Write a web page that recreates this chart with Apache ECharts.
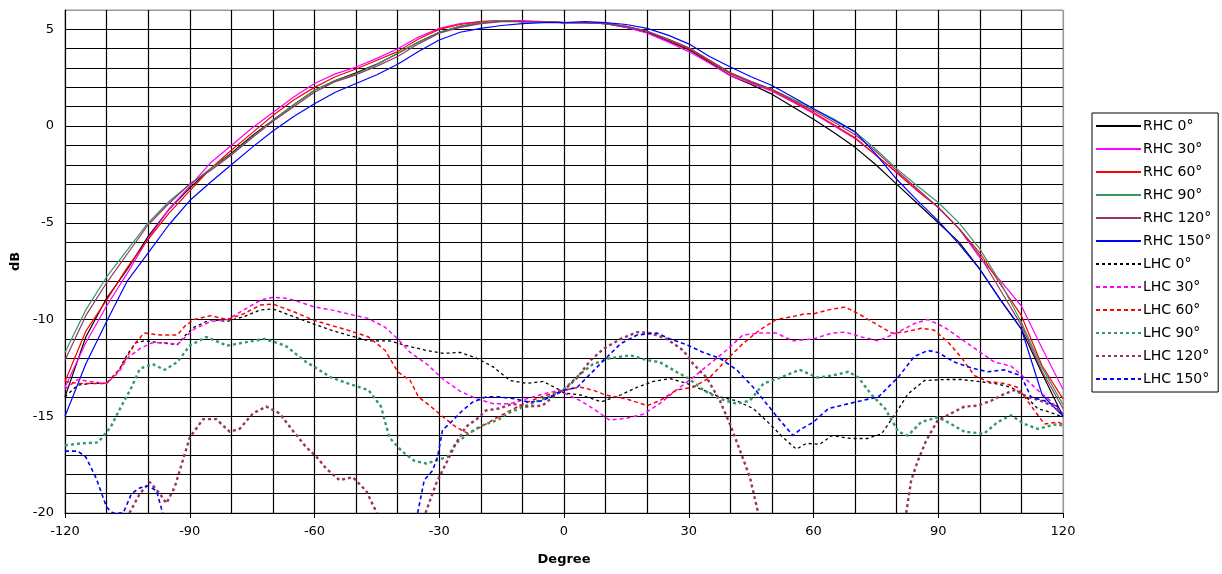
<!DOCTYPE html>
<html>
<head>
<meta charset="utf-8">
<script src="https://cdn.jsdelivr.net/npm/echarts@6/dist/echarts.min.js"></script>
<style>
html,body{margin:0;padding:0;background:#fff;}
#chart{width:1222px;height:574px;}
</style>
</head>
<body>
<div id="chart"></div>
<script>
// ---------- DATA ----------
const SERIES_NAMES = ['RHC 0°','RHC 30°','RHC 60°','RHC 90°','RHC 120°','RHC 150°',
                      'LHC 0°','LHC 30°','LHC 60°','LHC 90°','LHC 120°','LHC 150°'];
const X_TICK_LABELS = [-120,-90,-60,-30,0,30,60,90,120];
const Y_TICK_LABELS = [-20,-15,-10,-5,0,5];

const RHC_ANGLES = [-120,-115,-110,-105,-100,-95,-90,-85,-80,-75,-70,-65,-60,-55,-50,-45,-40,-35,-30,-25,-20,-15,-10,-5,
                    0,5,10,15,20,25,30,35,40,45,50,55,60,65,70,75,80,85,90,95,100,105,110,115,120];
const RHC_0   = [-14.0,-10.9,-8.9,-7.4,-5.7,-4.3,-3.2,-2.2,-1.4,-0.5,0.3,1.1,1.85,2.35,2.75,3.2,3.75,4.35,4.85,5.15,5.35,5.45,5.4,5.4,
                 5.35,5.35,5.3,5.1,4.85,4.4,3.95,3.3,2.6,2.15,1.65,1.0,0.35,-0.35,-1.1,-2.0,-3.0,-4.0,-5.0,-6.0,-7.4,-9.0,-10.5,-12.8,-15.0];
const RHC_30  = [-13.5,-11.2,-9.3,-7.6,-5.8,-4.3,-3.1,-1.9,-1.0,-0.1,0.7,1.5,2.2,2.7,3.05,3.5,4.0,4.6,5.05,5.3,5.4,5.45,5.45,5.4,
                 5.35,5.35,5.3,5.1,4.8,4.35,3.85,3.25,2.6,2.2,1.8,1.25,0.65,0.0,-0.65,-1.5,-2.4,-3.35,-4.2,-5.3,-6.8,-8.0,-9.3,-11.5,-13.6];
const RHC_60  = [-13.2,-10.6,-9.0,-7.3,-5.85,-4.5,-3.35,-2.2,-1.25,-0.35,0.55,1.35,2.0,2.55,2.95,3.4,3.85,4.5,5.0,5.25,5.4,5.45,5.4,5.4,
                 5.35,5.35,5.3,5.15,4.9,4.45,4.0,3.35,2.7,2.25,1.85,1.3,0.7,0.05,-0.6,-1.5,-2.4,-3.35,-4.2,-5.3,-6.55,-8.2,-9.8,-12.4,-14.1];
const RHC_90  = [-11.7,-9.5,-7.8,-6.4,-5.0,-3.9,-3.0,-2.2,-1.45,-0.55,0.3,1.1,1.85,2.35,2.7,3.2,3.75,4.35,4.85,5.15,5.35,5.45,5.4,5.4,
                 5.35,5.35,5.3,5.15,4.9,4.5,4.05,3.4,2.75,2.3,1.9,1.4,0.9,0.35,-0.3,-1.2,-2.2,-3.1,-3.95,-5.0,-6.35,-8.1,-10.15,-12.5,-14.4];
const RHC_120 = [-12.1,-9.8,-8.1,-6.6,-5.1,-4.0,-3.0,-2.3,-1.5,-0.6,0.25,1.0,1.75,2.3,2.65,3.1,3.6,4.25,4.8,5.1,5.3,5.4,5.4,5.4,
                 5.35,5.35,5.3,5.15,4.9,4.5,4.05,3.4,2.75,2.3,1.9,1.35,0.8,0.2,-0.45,-1.3,-2.3,-3.25,-4.2,-5.3,-6.7,-8.5,-10.3,-12.7,-14.6];
const RHC_150 = [-15.0,-12.3,-10.1,-8.0,-6.55,-5.1,-3.85,-2.9,-2.0,-1.1,-0.25,0.5,1.15,1.75,2.2,2.65,3.2,3.85,4.45,4.85,5.05,5.2,5.3,5.35,
                 5.35,5.4,5.35,5.25,5.05,4.7,4.25,3.6,3.05,2.55,2.1,1.5,0.9,0.3,-0.3,-1.45,-2.75,-3.85,-4.9,-6.1,-7.4,-9.0,-10.5,-13.9,-15.0];

// LHC: [angle, dB] pairs; null marks where the trace leaves the plot
const LHC_0 = [[-120,-14.0],[-117,-13.4],[-114,-13.3],[-110,-13.3],[-107,-12.6],[-105,-11.8],[-103,-11.2],[-101,-11.1],[-97,-11.2],[-93,-11.3],
  [-91,-10.8],[-89,-10.4],[-85,-10.0],[-81,-10.1],[-77,-9.85],[-73,-9.5],[-70,-9.45],[-65,-9.85],[-60,-10.25],[-56,-10.55],[-52,-10.8],
  [-47,-11.1],[-42,-11.1],[-37,-11.4],[-33,-11.6],[-29,-11.75],[-25,-11.7],[-21,-12.0],[-17,-12.45],[-13,-13.15],[-9,-13.3],[-5,-13.2],
  [-1,-13.65],[0,-13.8],[4,-13.9],[9,-14.25],[13.6,-13.9],[17.6,-13.5],[21.5,-13.2],[25.5,-13.05],[29.5,-13.3],[33.5,-13.65],[37.5,-14.0],
  [41.5,-14.2],[45.5,-14.6],[49.5,-15.4],[52.7,-16.1],[55.9,-16.7],[58.3,-16.4],[61.5,-16.45],[64.4,-16.0],[69,-16.15],[73,-16.15],
  [76.4,-15.9],[79.6,-14.9],[82.7,-13.85],[86.7,-13.15],[91.5,-13.1],[95.5,-13.1],[99.5,-13.2],[103.5,-13.3],[107.5,-13.5],[110.7,-13.9],
  [113.9,-14.6],[117,-14.8],[120,-15.05]];
const LHC_30 = [[-120,-13.6],[-117,-13.1],[-114,-13.2],[-110,-13.3],[-107,-12.7],[-105,-12.0],[-102,-11.5],[-99,-11.2],[-95,-11.2],[-93,-11.3],
  [-91,-10.9],[-89,-10.5],[-85,-10.1],[-81,-10.0],[-77,-9.5],[-73,-9.0],[-70,-8.85],[-67,-8.9],[-65,-9.0],[-60,-9.35],[-56,-9.5],[-52,-9.7],
  [-47,-9.95],[-43,-10.4],[-40,-11.0],[-37,-11.7],[-33,-12.3],[-29,-13.1],[-25,-13.7],[-21,-14.1],[-17,-14.35],[-13,-14.35],[-9,-14.1],
  [-5,-13.85],[-1,-13.65],[0,-13.8],[4,-14.2],[7,-14.6],[11,-15.2],[15,-15.1],[19,-14.9],[23,-14.35],[27,-13.65],[31,-13.0],[35,-12.3],
  [39,-11.6],[43,-10.8],[47,-10.7],[51,-10.7],[55,-11.1],[60,-11.0],[64.4,-10.7],[67.6,-10.65],[71.6,-10.9],[75.6,-11.1],[80.4,-10.65],
  [84.3,-10.2],[87.5,-10.0],[91.5,-10.4],[95.5,-11.0],[99.5,-11.6],[103.5,-12.2],[107.5,-12.4],[110.7,-13.0],[113.9,-13.65],[117,-14.2],[120,-14.9]];
const LHC_60 = [[-120,-13.2],[-117,-13.3],[-114,-13.3],[-110,-13.3],[-107,-12.6],[-105,-11.9],[-103,-11.2],[-101,-10.7],[-99,-10.75],[-97,-10.8],
  [-93,-10.8],[-91,-10.3],[-89,-10.0],[-85,-9.8],[-81,-10.0],[-77,-9.7],[-73,-9.25],[-70,-9.2],[-65,-9.6],[-60,-10.05],[-56,-10.3],[-52,-10.55],
  [-47,-10.9],[-43,-11.6],[-40,-12.7],[-37,-13.15],[-35,-14.0],[-32,-14.5],[-29,-15.05],[-26,-15.55],[-23,-15.9],[-20,-15.55],[-16,-15.05],
  [-12,-14.6],[-8,-14.2],[-4,-13.9],[0,-13.65],[4,-13.5],[7,-13.65],[10,-13.9],[15,-14.1],[20,-14.45],[23,-14.2],[27,-13.65],[31,-13.5],
  [35,-13.0],[39,-12.1],[43,-11.25],[47,-10.55],[51,-10.0],[55,-9.85],[58,-9.7],[60,-9.7],[63.6,-9.5],[67.6,-9.35],[70.8,-9.7],[74.8,-10.2],
  [78.8,-10.7],[81.9,-10.65],[85.9,-10.45],[89,-10.55],[92.3,-11.15],[95.5,-11.95],[98.7,-12.9],[101.9,-13.2],[105.9,-13.3],[109,-13.5],
  [112.3,-14.45],[115.5,-15.4],[118.7,-15.3],[120,-15.4]];
const LHC_90 = [[-120,-16.5],[-116,-16.4],[-112,-16.35],[-109,-15.55],[-107,-14.7],[-104,-13.5],[-102,-12.55],[-99,-12.3],[-96,-12.6],[-93,-12.2],
  [-90,-11.35],[-86,-10.9],[-81,-11.35],[-76,-11.15],[-72,-11.0],[-67,-11.35],[-62,-12.2],[-60,-12.45],[-56,-13.0],[-52,-13.3],[-47,-13.65],
  [-44,-14.5],[-42,-16.1],[-39,-16.8],[-36,-17.3],[-33,-17.45],[-31,-17.3],[-28,-17.1],[-26,-16.4],[-23,-15.9],[-20,-15.5],[-16,-15.2],
  [-13,-14.8],[-9,-14.45],[-5,-14.1],[-1,-13.75],[0,-13.6],[4,-12.8],[7,-12.3],[11,-12.0],[16,-11.85],[20,-12.1],[23,-12.2],[27,-12.7],
  [30,-13.05],[33.5,-13.65],[37.5,-14.1],[41.5,-14.35],[44.7,-14.2],[48,-13.3],[52,-13.0],[56.7,-12.6],[61,-13.0],[64.4,-12.9],[68.4,-12.7],
  [70.8,-13.0],[74,-13.9],[77.2,-14.6],[80.4,-15.8],[82.7,-16.0],[85.9,-15.3],[89.9,-15.05],[93.1,-15.4],[96.3,-15.8],[101,-15.9],
  [104.3,-15.3],[107.5,-14.95],[110.7,-15.4],[113.9,-15.65],[118.7,-15.4],[120,-15.5]];
const LHC_120 = [[-104.5,-20.0],[-102,-19.0],[-99.6,-18.4],[-97.2,-19.0],[-95.6,-19.5],[-93.6,-18.65],[-90,-16.1],[-86.8,-15.15],[-83.6,-15.15],
  [-80.4,-15.8],[-78,-15.65],[-74.8,-14.85],[-71.6,-14.5],[-68.4,-14.85],[-65.2,-15.75],[-62,-16.6],[-59.5,-17.1],[-57.2,-17.7],[-54,-18.3],
  [-50.8,-18.15],[-47.6,-18.85],[-45,-20.0],[-39,null],[-33.3,-20.0],[-30.8,-18.5],[-28.4,-17.45],[-26,-16.4],[-23.6,-15.55],[-20.4,-15.05],
  [-18.8,-14.7],[-15.6,-14.6],[-12.4,-14.35],[-9.2,-14.5],[-5.2,-14.45],[-1.2,-13.75],[0,-13.65],[3.2,-13.0],[6.4,-12.1],[9.6,-11.5],
  [13.6,-11.0],[17.6,-10.65],[20.8,-10.7],[24.7,-11.0],[28.7,-11.6],[31.1,-12.3],[34.3,-13.0],[37.5,-14.2],[39.9,-15.4],[42.3,-16.75],
  [44.7,-18.15],[46.7,-20.0],[65,null],[82.3,-20.0],[83.5,-18.3],[85.1,-17.3],[87.1,-16.25],[89.9,-15.2],[93.1,-14.85],[96.3,-14.5],
  [99.5,-14.45],[102.7,-14.2],[105.9,-13.85],[108.3,-13.65],[111.5,-14.0],[114.7,-14.2],[117.9,-14.5],[120,-14.9]];
const LHC_150 = [[-120,-16.8],[-117,-16.8],[-115,-17.1],[-112.5,-18.2],[-110,-19.7],[-108.5,-20.0],[-106,-20.0],[-104,-19.0],[-102,-18.7],
  [-100,-18.6],[-98,-18.85],[-96.5,-20.0],[-66,null],[-35.2,-20.0],[-33.6,-18.3],[-31.6,-17.8],[-30.4,-17.1],[-29.2,-15.7],[-27.6,-15.4],
  [-26,-15.05],[-24.4,-14.7],[-22,-14.27],[-18.8,-14.0],[-15.6,-14.0],[-11.6,-14.1],[-8.4,-14.27],[-5.2,-14.2],[-2,-13.85],[0,-13.66],
  [3.2,-13.5],[6.4,-12.8],[9.6,-12.1],[13.6,-11.25],[17.6,-10.8],[22.3,-10.7],[25.5,-11.0],[29.5,-11.3],[33.5,-11.7],[37.5,-12.0],
  [41.5,-12.6],[45.5,-13.5],[48.7,-14.35],[51.9,-15.2],[55.1,-16.0],[56.7,-15.7],[60,-15.3],[61.5,-15.0],[63.6,-14.6],[70,-14.27],
  [75.6,-14.0],[80.4,-12.97],[84.3,-11.9],[87.5,-11.6],[89.9,-11.7],[93.9,-12.2],[97.9,-12.5],[101.9,-12.7],[105.9,-12.6],[109.9,-12.9],
  [112.3,-14.0],[115.5,-14.2],[118.7,-14.5],[120,-15.0]];

// ---------- STYLE ----------
const COLORS = ['#000000','#FF00FF','#FF0000','#339966','#993366','#0000FF'];
const FONT = 'DejaVu Sans';

const rhcValues = [RHC_0, RHC_30, RHC_60, RHC_90, RHC_120, RHC_150];
const lhcValues = [LHC_0, LHC_30, LHC_60, LHC_90, LHC_120, LHC_150];
const lhcDash = [[3,3],[4,3],[4,3],[3,3],[3,3],[4,3]];
const lhcWidth = [1.3,1.5,1.5,2.4,2.4,1.6];

const series = [];
rhcValues.forEach((vals, i) => {
  series.push({
    name: SERIES_NAMES[i], type: 'line', symbol: 'none', clip: true,
    data: RHC_ANGLES.map((a, k) => [a, vals[k]]),
    lineStyle: { color: COLORS[i], width: 1.2, type: 'solid' },
    itemStyle: { color: COLORS[i] }, animation: false
  });
});
lhcValues.forEach((vals, i) => {
  series.push({
    name: SERIES_NAMES[6 + i], type: 'line', symbol: 'none', clip: true, connectNulls: false,
    data: vals,
    lineStyle: { color: COLORS[i], width: lhcWidth[i], type: lhcDash[i] },
    itemStyle: { color: COLORS[i] }, animation: false
  });
});

// split line colours: black everywhere except the top / right frame edge (grey)
const yLineColors = []; for (let v = -20; v <= 6; v++) yLineColors.push(v === 6 ? '#999' : '#000');
const xLineColors = []; for (let v = -120; v <= 120; v += 30) xLineColors.push(v === 120 ? '#999' : '#000');

const chart = echarts.init(document.getElementById('chart'), null, { renderer: 'canvas' });
chart.setOption({
  animation: false,
  backgroundColor: '#fff',
  grid: { left: 65, right: 159, top: 10, bottom: 61, show: true, borderColor: '#999', borderWidth: 1 },
  xAxis: {
    type: 'value', min: -120, max: 120, interval: 30,
    name: 'Degree', nameLocation: 'middle', nameGap: 40,
    nameTextStyle: { fontFamily: FONT, fontSize: 13, fontWeight: 'bold', color: '#000' },
    axisLine: { show: true, onZero: false, lineStyle: { color: '#000', width: 1 } },
    axisTick: { show: true, length: 5, lineStyle: { color: '#000' } },
    axisLabel: { fontFamily: FONT, fontSize: 13, color: '#000', margin: 12,
      formatter: v => X_TICK_LABELS.includes(v) ? String(v) : '' },
    splitLine: { show: true, lineStyle: { color: xLineColors, width: 1.2 } },
    minorTick: { show: false, splitNumber: 3 },
    minorSplitLine: { show: true, lineStyle: { color: '#000', width: 1.2 } }
  },
  yAxis: {
    type: 'value', min: -20, max: 6, interval: 1,
    name: 'dB', nameLocation: 'middle', nameGap: 42, nameRotate: 90,
    nameTextStyle: { fontFamily: FONT, fontSize: 13, fontWeight: 'bold', color: '#000' },
    axisLine: { show: true, onZero: false, lineStyle: { color: '#000', width: 1 } },
    axisTick: { show: false },
    axisLabel: { fontFamily: FONT, fontSize: 13, color: '#000', margin: 11,
      formatter: v => Y_TICK_LABELS.includes(v) ? String(v) : '' },
    splitLine: { show: true, lineStyle: { color: yLineColors, width: 1.2 } }
  },
  legend: {
    orient: 'vertical', left: 1092, top: 113,
    data: SERIES_NAMES,
    itemWidth: 45, itemHeight: 13, itemGap: 9,
    padding: [6, 7, 6, 3],
    borderColor: '#000', borderWidth: 1,
    itemStyle: { opacity: 0 },
    textStyle: { fontFamily: FONT, fontSize: 14, color: '#000', padding: [0, 0, 0, -3] }
  },
  series: series
});
</script>
</body>
</html>
